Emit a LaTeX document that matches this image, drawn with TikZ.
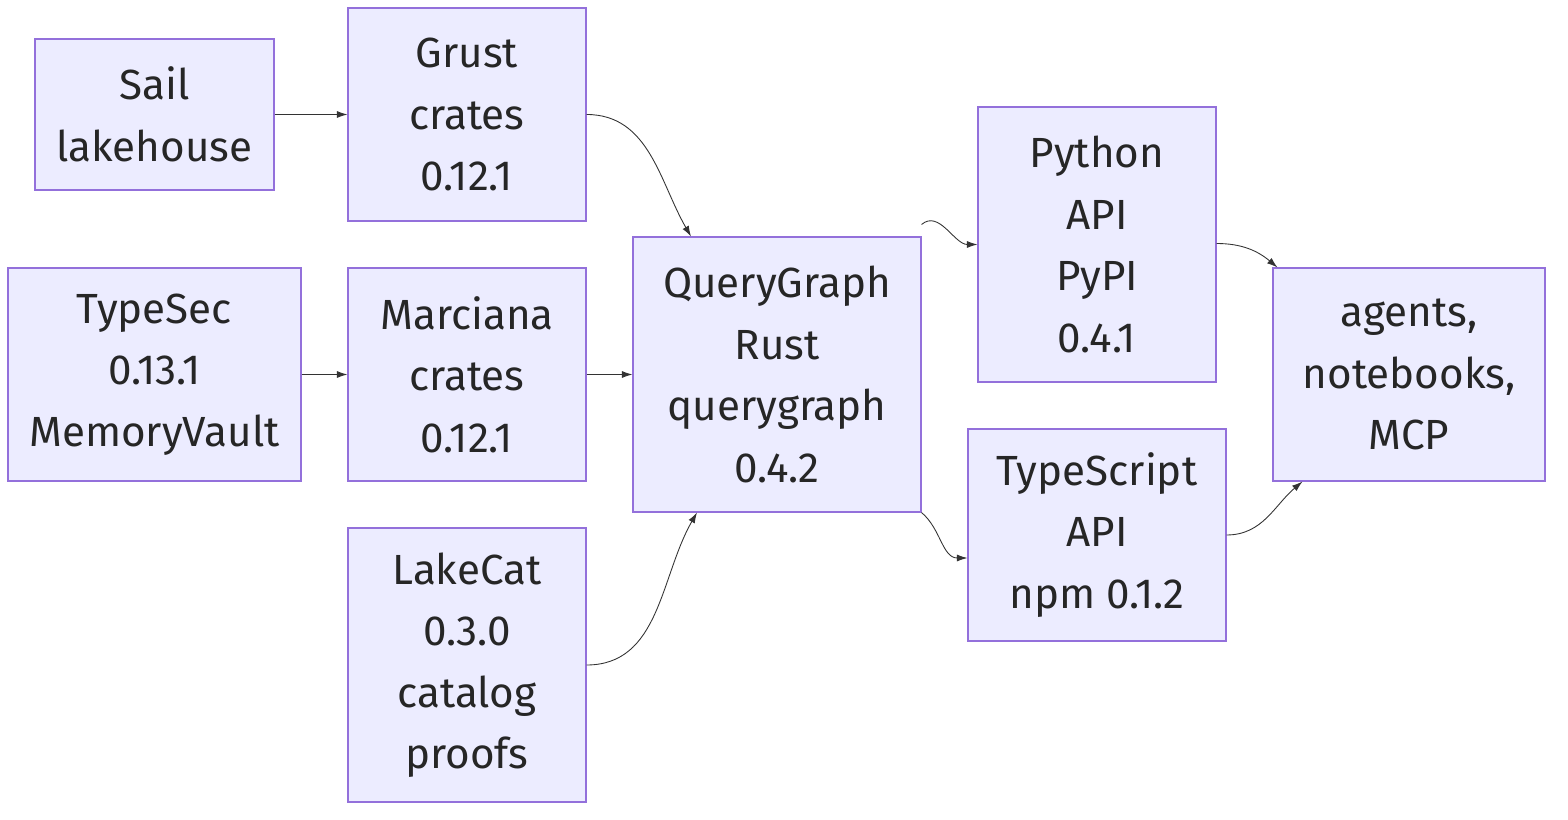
\documentclass[tikz,border=0pt]{standalone}
\usepackage{fontspec}
\setmainfont{Fira Sans}
\usetikzlibrary{arrows.meta}
\definecolor{boxfill}{HTML}{ECECFF}
\definecolor{boxline}{HTML}{9370DB}
\definecolor{linkcol}{HTML}{333333}
\begin{document}
\begin{tikzpicture}[x=0.02cm,y=-0.02cm,
  box/.style={draw=boxline,fill=boxfill,line width=0.6pt,align=center,inner sep=0pt,
    font=\fontsize{24}{35}\selectfont,text=black!85},
  link/.style={draw=linkcol,line width=0.5pt,-{Latex[length=6pt,width=4pt]}}]
\useasboundingbox (0,0) rectangle (1568,820);

\node[box,minimum width=239*0.02cm,minimum height=151*0.02cm] at (154.5,114.5) (sail) {Sail\\lakehouse};
\node[box,minimum width=238*0.02cm,minimum height=213*0.02cm] at (467,114.5) (grust) {Grust\\crates\\0.12.1};
\node[box,minimum width=293*0.02cm,minimum height=213*0.02cm] at (154.5,374.5) (typesec) {TypeSec\\0.13.1\\MemoryVault};
\node[box,minimum width=238*0.02cm,minimum height=213*0.02cm] at (467,374.5) (marciana) {Marciana\\crates\\0.12.1};
\node[box,minimum width=238*0.02cm,minimum height=274*0.02cm] at (467,665) (lakecat) {LakeCat\\0.3.0\\catalog\\proofs};
\node[box,minimum width=288*0.02cm,minimum height=275*0.02cm] at (777,374.5) (qg) {QueryGraph\\Rust\\querygraph\\0.4.2};
\node[box,minimum width=238*0.02cm,minimum height=275*0.02cm] at (1097,244.5) (python) {Python\\API\\PyPI\\0.4.1};
\node[box,minimum width=258*0.02cm,minimum height=212*0.02cm] at (1097,535) (ts) {TypeScript\\API\\npm 0.1.2};
\node[box,minimum width=272*0.02cm,minimum height=213*0.02cm] at (1409,374.5) (agents) {agents,\\notebooks,\\MCP};

\draw[link] (sail) -- (grust);
\draw[link] (typesec) -- (marciana);
\draw[link] (marciana) -- (qg);
\draw[link] (grust.east) to[out=0,in=120] ([xshift=-86*0.02cm]qg.north);
\draw[link] (lakecat.east) to[out=0,in=-120] ([xshift=-80*0.02cm]qg.south);
\draw[link] (qg.north east) ++(0,-12) to[out=40,in=180] (python.west);
\draw[link] (qg.south east) to[out=-40,in=180] ([yshift=-23*0.02cm]ts.west);
\draw[link] (python.east) ++(0,-1) to[out=0,in=140] ([xshift=5*0.02cm]agents.north west);
\draw[link] (ts.east) to[out=0,in=-140] ([xshift=30*0.02cm]agents.south west);
\end{tikzpicture}
\end{document}
